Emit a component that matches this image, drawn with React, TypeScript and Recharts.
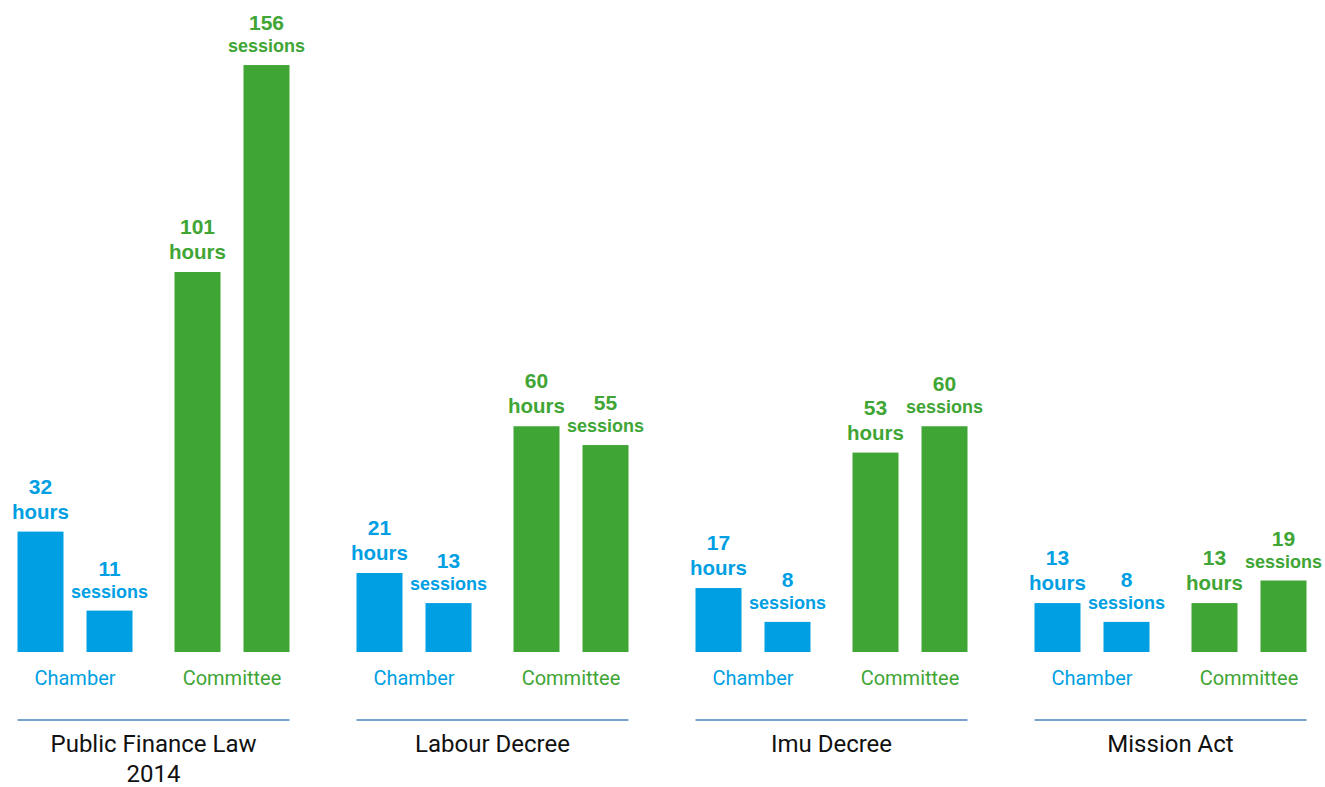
import React from 'react';
import { BarChart, Bar, XAxis, YAxis, LabelList } from 'recharts';

const groups = ['Public Finance Law 2014', 'Labour Decree', 'Imu Decree', 'Mission Act'];
const chamberHours = [32, 21, 17, 13];
const chamberSessions = [11, 13, 8, 8];
const committeeHours = [101, 60, 53, 13];
const committeeSessions = [156, 55, 60, 19];
const sideLabels = ['Chamber', 'Committee'];

const BLUE = '#009FE3';
const GREEN = '#3FA535';
const LINE = '#4A84C0';
const LABEL_FONT = '"Liberation Sans", Arial, sans-serif';
const TICK_FONT = 'Roboto, "Open Sans", sans-serif';

const data = groups.map((name, i) => ({
  name,
  chamberHours: chamberHours[i],
  chamberSessions: chamberSessions[i],
  committeeHours: committeeHours[i],
  committeeSessions: committeeSessions[i],
}));

const VISIBLE_BAR = 46;
const SLOT = 69;
const SPACER = 19;

const NarrowBar = (props: any) => {
  const { x, y, width, height, fill } = props;
  if (!height || height <= 0) return null;
  return <rect x={x + (width - VISIBLE_BAR) / 2} y={y} width={VISIBLE_BAR} height={height} fill={fill} />;
};

const makeLabel = (unit: string, color: string) => (props: any) => {
  const { x, y, width, value } = props;
  const cx = x + width / 2;
  const isHours = unit === 'hours';
  const unitY = y - 13;
  const numY = unitY - (isHours ? 25 : 22);
  return (
    <g>
      <text x={cx} y={numY} textAnchor="middle" fill={color} fontSize={21} fontWeight="bold" fontFamily={LABEL_FONT}>
        {value}
      </text>
      <text x={cx} y={unitY} textAnchor="middle" fill={color} fontSize={isHours ? 20.5 : 18} fontWeight="bold" fontFamily={LABEL_FONT}>
        {unit}
      </text>
    </g>
  );
};

const wrapName = (name: string): string[] => {
  if (name.length <= 18) return [name];
  const words = name.split(' ');
  const lines: string[] = [];
  let cur = '';
  words.forEach((w) => {
    const next = cur ? cur + ' ' + w : w;
    if (next.length > 18 && cur) {
      lines.push(cur);
      cur = w;
    } else {
      cur = next;
    }
  });
  if (cur) lines.push(cur);
  return lines;
};

const GroupTick = (props: any) => {
  const { x, y, payload } = props;
  const pairOffset = (SLOT + SPACER) / 2 + SLOT / 2; // center of a pair relative to group center
  const halfSpan = SLOT * 2 + SPACER / 2 - (SLOT - VISIBLE_BAR) / 2;
  const lines = wrapName(String(payload.value));
  return (
    <g>
      <text x={x - pairOffset} y={y + 33} textAnchor="middle" fill={BLUE} fontSize={20} fontFamily={TICK_FONT}>
        {sideLabels[0]}
      </text>
      <text x={x + pairOffset} y={y + 33} textAnchor="middle" fill={GREEN} fontSize={20} fontFamily={TICK_FONT}>
        {sideLabels[1]}
      </text>
      <line x1={x - halfSpan} x2={x + halfSpan} y1={y + 68} y2={y + 68} stroke={LINE} strokeWidth={1.5} />
      {lines.map((l, i) => (
        <text key={i} x={x} y={y + 100 + i * 30} textAnchor="middle" fill="#111" fontSize={24} fontFamily={TICK_FONT}>
          {l}
        </text>
      ))}
    </g>
  );
};

export default function App() {
  return (
    <div style={{ position: 'absolute', left: 0, top: 0, width: 1325, height: 787, overflow: 'hidden', background: '#fff' }}>
      <div style={{ position: 'absolute', left: -16.5, top: 0 }}>
        <BarChart width={1356} height={787} data={data} margin={{ top: 50, right: 0, bottom: 0, left: 0 }} barGap={0}>
          <XAxis
            dataKey="name"
            height={135}
            axisLine={false}
            tickLine={false}
            tickSize={0}
            tickMargin={0}
            interval={0}
            tick={<GroupTick />}
          />
          <YAxis hide domain={[0, 160]} />
          <Bar dataKey="chamberHours" fill={BLUE} barSize={SLOT} shape={<NarrowBar />} isAnimationActive={false}>
            <LabelList dataKey="chamberHours" content={makeLabel('hours', BLUE)} />
          </Bar>
          <Bar dataKey="chamberSessions" fill={BLUE} barSize={SLOT} shape={<NarrowBar />} isAnimationActive={false}>
            <LabelList dataKey="chamberSessions" content={makeLabel('sessions', BLUE)} />
          </Bar>
          <Bar dataKey={() => 0} fill="transparent" barSize={SPACER} isAnimationActive={false} legendType="none" />
          <Bar dataKey="committeeHours" fill={GREEN} barSize={SLOT} shape={<NarrowBar />} isAnimationActive={false}>
            <LabelList dataKey="committeeHours" content={makeLabel('hours', GREEN)} />
          </Bar>
          <Bar dataKey="committeeSessions" fill={GREEN} barSize={SLOT} shape={<NarrowBar />} isAnimationActive={false}>
            <LabelList dataKey="committeeSessions" content={makeLabel('sessions', GREEN)} />
          </Bar>
        </BarChart>
      </div>
    </div>
  );
}
